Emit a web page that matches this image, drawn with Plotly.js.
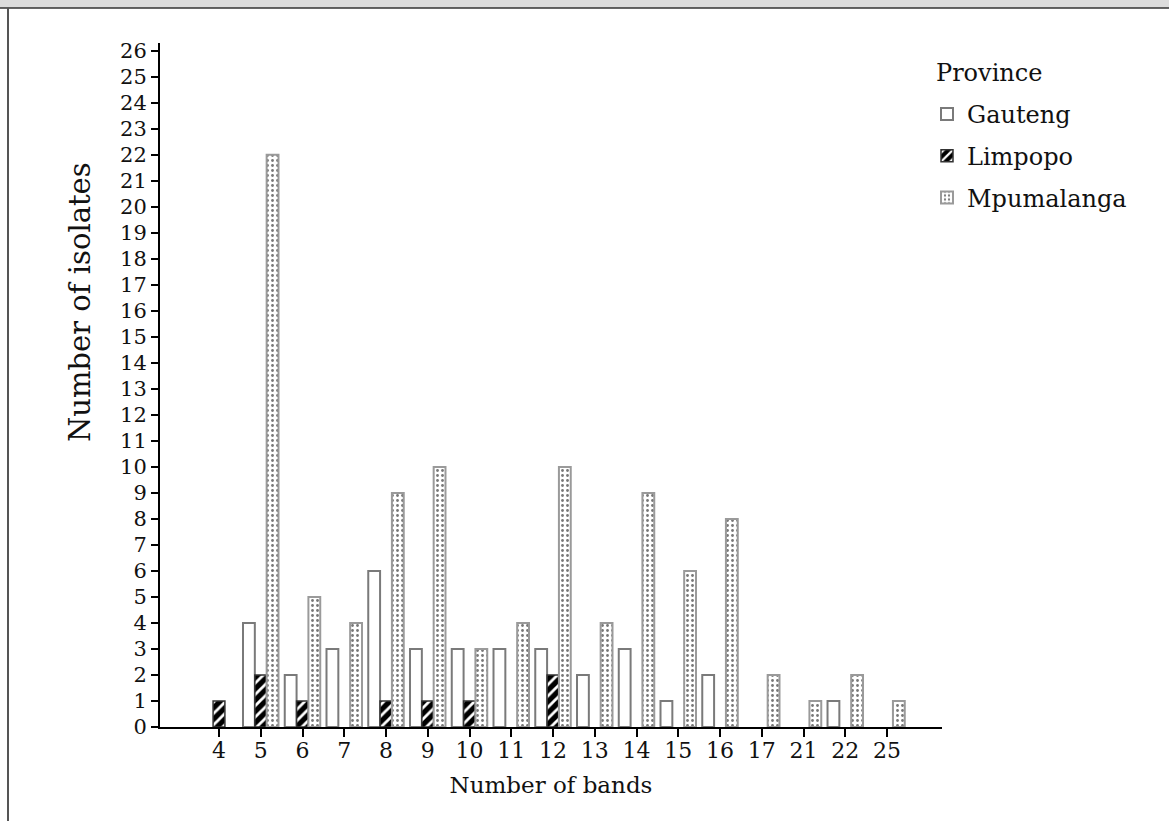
<!DOCTYPE html>
<html>
<head>
<meta charset="utf-8">
<script src="https://cdn.plot.ly/plotly-3.0.1.min.js"></script>
<style>html,body{margin:0;padding:0;background:#fff;}#chart{width:1169px;height:821px;}</style>
</head>
<body>
<div id="chart"></div>
<script>
const bands = ["4","5","6","7","8","9","10","11","12","13","14","15","16","17","21","22","25"];
const gauteng =    [null,4,2,3,6,3,3,3,3,2,3,1,2,null,null,1,null];
const limpopo =    [1,2,1,null,1,1,1,null,2,null,null,null,null,null,null,null,null];
const mpumalanga = [null,22,5,4,9,10,3,4,10,4,9,6,8,2,1,2,1];
const yTicks = Array.from({length:27},(_,i)=>i);

const FONT = "DejaVu Serif, Liberation Serif, serif";

const traces = [
  {type:'bar', name:'Gauteng', x:bands, y:gauteng, legendgroup:'g',
   marker:{color:'white', line:{color:'#7a7a7a', width:2}}},
  {type:'bar', name:'Limpopo', x:bands, y:limpopo, legendgroup:'l',
   marker:{color:'black', line:{color:'#333', width:1.5},
           pattern:{shape:'/', bgcolor:'black', fgcolor:'white', size:8, solidity:0.35}}},
  {type:'bar', name:'Mpumalanga', x:bands, y:mpumalanga, legendgroup:'m',
   marker:{color:'white', line:{color:'#9a9a9a', width:2},
           pattern:{shape:'.', bgcolor:'white', fgcolor:'#777', size:5, solidity:0.25}}}
];

const px2x = p => (p-160)/782;
const px2y = p => (727-p)/684;

const layout = {
  width:1169, height:821,
  margin:{l:160, r:227, t:43, b:94},
  paper_bgcolor:'white', plot_bgcolor:'white',
  font:{family:FONT, color:'#111', size:21},
  barmode:'group', bargap:0.15, bargroupgap:0,
  showlegend:true,
  legend:{x:px2x(927), y:px2y(92), xanchor:'left', yanchor:'top',
          font:{family:FONT, size:24, color:'#111'},
          tracegroupgap:7.5, bgcolor:'rgba(0,0,0,0)', itemclick:false},
  xaxis:{type:'category', range:[-1.413, 17.317], showline:true, linecolor:'#000', linewidth:2,
         ticks:'outside', ticklen:8, tickwidth:2, tickcolor:'#000', showgrid:false, zeroline:false,
         ticklabelstandoff:-5,
         tickfont:{family:FONT, size:22, color:'#111'},
         title:{text:'Number of bands', font:{family:FONT, size:23, color:'#111'}, standoff:14}},
  yaxis:{range:[0,26.3], tickmode:'array', tickvals:yTicks, ticktext:yTicks.map(String),
         showline:true, linecolor:'#000', linewidth:2, ticks:'outside', ticklen:7, tickwidth:2,
         tickcolor:'#000', showgrid:false, zeroline:false,
         tickfont:{family:FONT, size:21, color:'#111'}},
  annotations:[
    {text:'Number of isolates', xref:'paper', yref:'paper', x:px2x(80), y:px2y(302),
     xanchor:'center', yanchor:'middle', textangle:-90, showarrow:false,
     font:{family:FONT, size:29, color:'#111'}},
    {text:'Province', xref:'paper', yref:'paper', x:px2x(934), y:px2y(73),
     xanchor:'left', yanchor:'middle', showarrow:false,
     font:{family:FONT, size:24, color:'#111'}}
  ],
  shapes:[
    {type:'rect', xref:'paper', yref:'paper', x0:px2x(-5), x1:px2x(1175), y0:px2y(8), y1:px2y(-5),
     fillcolor:'#dcdcdc', line:{width:0}, layer:'above'},
    {type:'line', xref:'paper', yref:'paper', x0:px2x(-5), x1:px2x(1175), y0:px2y(8), y1:px2y(8),
     line:{color:'#333', width:1.5}},
    {type:'line', xref:'paper', yref:'paper', x0:px2x(8), x1:px2x(8), y0:px2y(8), y1:px2y(830),
     line:{color:'#555', width:2}}
  ]
};

Plotly.newPlot('chart', traces, layout, {displayModeBar:false, staticPlot:true});
</script>
</body>
</html>
